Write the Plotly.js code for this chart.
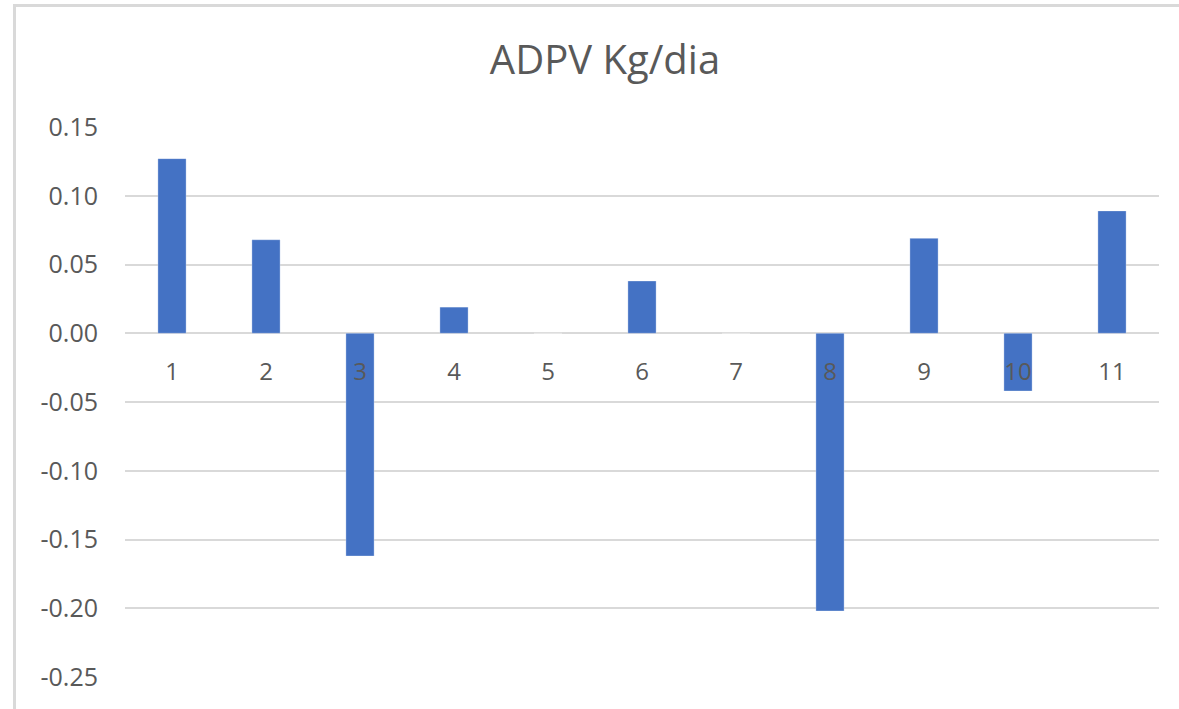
<!DOCTYPE html>
<html>
<head>
<meta charset="utf-8">
<script src="https://cdn.plot.ly/plotly-3.0.1.min.js"></script>
<style>
  html, body { margin: 0; padding: 0; background: #ffffff; }
  #wrap { position: relative; width: 1179px; height: 709px; overflow: hidden; }
  #chart { position: absolute; left: 0; top: 0; width: 1179px; height: 709px; }
  #frame { position: absolute; left: 13px; top: 4px; width: 1300px; height: 800px;
           border-left: 3px solid #d9d9d9; border-top: 3px solid #d9d9d9; pointer-events: none; }
</style>
</head>
<body>
<div id="wrap">
  <div id="chart"></div>
  <div id="frame"></div>
</div>
<script>
const chartTitle = "ADPV Kg/dia";
const categories = ["1", "2", "3", "4", "5", "6", "7", "8", "9", "10", "11"];
const values = [0.127, 0.068, -0.162, 0.019, 0, 0.038, 0, -0.202, 0.069, -0.042, 0.089];
const yTickValues = [0.15, 0.10, 0.05, 0.00, -0.05, -0.10, -0.15, -0.20, -0.25];
const yTickLabels = ["0.15", "0.10", "0.05", "0.00", "-0.05", "-0.10", "-0.15", "-0.20", "-0.25"];

const textColor = "#595959";
const fontFamily = "'Open Sans', 'Noto Sans', sans-serif";

const trace = {
  type: "bar",
  x: categories,
  y: values,
  marker: { color: "#4472c4", line: { color: "rgba(255,255,255,0.3)", width: 1 } },
  hoverinfo: "x+y"
};

const yMin = -0.25, yMax = 0.15;

const layout = {
  width: 1179,
  height: 709,
  paper_bgcolor: "#ffffff",
  plot_bgcolor: "#ffffff",
  margin: { l: 125, r: 20, t: 127, b: 32 },
  showlegend: false,
  bargap: 0.7,
  title: {
    text: chartTitle,
    font: { family: fontFamily, size: 40, color: textColor },
    x: 605 / 1179,
    xanchor: "center",
    xref: "container",
    y: 1 - 60 / 709,
    yanchor: "middle",
    yref: "container"
  },
  xaxis: {
    type: "category",
    anchor: "free",
    position: (0 - yMin) / (yMax - yMin),
    showgrid: false,
    showline: false,
    zeroline: false,
    ticks: "",
    ticklabelstandoff: 22,
    tickfont: { family: fontFamily, size: 24, color: textColor }
  },
  yaxis: {
    range: [yMin, yMax],
    tickvals: yTickValues,
    ticktext: yTickLabels,
    showgrid: true,
    gridcolor: "#d9d9d9",
    gridwidth: 2,
    zeroline: false,
    showline: false,
    ticks: "",
    ticklabelstandoff: 26,
    tickfont: { family: fontFamily, size: 25, color: textColor }
  }
};

Plotly.newPlot("chart", [trace], layout, { displayModeBar: false, staticPlot: true });
</script>
</body>
</html>
